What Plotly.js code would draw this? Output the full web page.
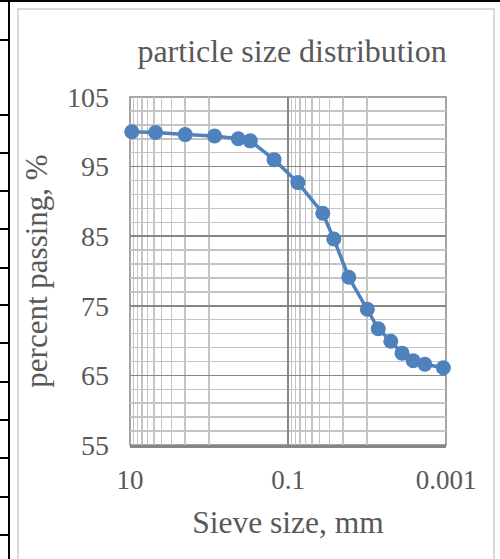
<!DOCTYPE html>
<html>
<head>
<meta charset="utf-8">
<script src="https://cdn.plot.ly/plotly-3.0.1.min.js"></script>
<style>
  html, body { margin: 0; padding: 0; background: #ffffff; }
  body { width: 500px; height: 559px; position: relative; overflow: hidden; }
  .rule { position: absolute; background: #000000; }
  #frame {
    position: absolute; left: 17px; top: 8px; width: 474px; height: 560px;
    border-left: 2px solid #d9d9d9; border-top: 2px solid #d9d9d9; border-right: 2px solid #d9d9d9;
    background: #ffffff;
  }
  #chart { position: absolute; left: 0; top: 0; width: 474px; height: 549px; }
</style>
</head>
<body>
<div class="rule" style="left:0;top:0;width:500px;height:2px;"></div>
<div class="rule" style="left:8px;top:0;width:2px;height:559px;"></div>
<div id="rows"></div>
<div id="frame"><div id="chart"></div></div>
<script>
// Grain size analysis: sieve + hydrometer results
const sieveSizes = [9.5, 4.75, 2.0, 0.85, 0.425, 0.3, 0.15, 0.075, 0.0363, 0.0263, 0.0170, 0.0099, 0.0072, 0.0050, 0.0036, 0.0026, 0.00185, 0.00108];
const percentPassing = [100.0, 99.9, 99.6, 99.4, 99.0, 98.7, 96.0, 92.7, 88.3, 84.6, 79.1, 74.5, 71.7, 69.9, 68.2, 67.1, 66.6, 66.1];

const xMajorVals = [10, 0.1, 0.001];
const xMajorText = ['10', '0.1', '0.001'];
const xMinorVals = [9, 8, 7, 6, 5, 4, 3, 2, 1, 0.09, 0.08, 0.07, 0.06, 0.05, 0.04, 0.03, 0.02, 0.01];

// table row rules of the surrounding page
const rowRules = [40, 115, 153, 191, 229, 268, 305, 343, 382, 420, 458, 497, 535];
const rows = document.getElementById('rows');
rowRules.forEach(function (y) {
  const d = document.createElement('div');
  d.className = 'rule';
  d.style.left = '0px';
  d.style.top = (y - 1) + 'px';
  d.style.width = '9px';
  d.style.height = '2px';
  rows.appendChild(d);
});

const serif = '"Liberation Serif", "Times New Roman", serif';
const textGray = '#595959';
const majorGrid = '#868686';
const minorGrid = '#c4c4c4';

const trace = {
  x: sieveSizes,
  y: percentPassing,
  type: 'scatter',
  mode: 'lines+markers',
  line: { color: '#4f81bd', width: 3.5 },
  marker: { color: '#4f81bd', size: 15 },
  cliponaxis: false,
  hoverinfo: 'x+y'
};

const layout = {
  width: 474,
  height: 549,
  margin: { l: 111, r: 47, t: 87, b: 114 },
  paper_bgcolor: '#ffffff',
  plot_bgcolor: '#ffffff',
  showlegend: false,
  font: { family: serif, color: textGray, size: 27 },
  title: {
    text: 'particle size distribution',
    font: { family: serif, size: 32, color: textGray },
    x: 0.576, xanchor: 'center',
    yref: 'container', y: 0.925, yanchor: 'middle'
  },
  // plot-area outline (top/left/right edges coincide with major gridlines)
  shapes: [{
    type: 'rect', xref: 'paper', yref: 'paper', x0: 0, x1: 1, y0: 0, y1: 1,
    line: { color: majorGrid, width: 1.5 }, layer: 'below'
  }],
  xaxis: {
    type: 'log',
    range: [1, -3],
    tickmode: 'array',
    tickvals: xMajorVals,
    ticktext: xMajorText,
    ticks: '',
    ticklabelstandoff: 9,
    showgrid: true,
    gridcolor: majorGrid,
    gridwidth: 1.5,
    minor: { tickmode: 'array', tickvals: xMinorVals, showgrid: true, gridcolor: minorGrid, gridwidth: 1.5, ticks: '' },
    showline: true,
    linecolor: majorGrid,
    linewidth: 3,
    zeroline: false,
    tickfont: { family: serif, size: 27, color: textGray },
    title: { text: 'Sieve size, mm', font: { family: serif, size: 31.5, color: textGray }, standoff: 17 },
    automargin: false,
    fixedrange: true
  },
  yaxis: {
    range: [55, 105],
    tickmode: 'linear',
    tick0: 55,
    dtick: 10,
    ticks: '',
    ticklabelstandoff: 20,
    showgrid: true,
    gridcolor: majorGrid,
    gridwidth: 1.5,
    minor: { tick0: 55, dtick: 2, showgrid: true, gridcolor: minorGrid, gridwidth: 1.5, ticks: '' },
    showline: false,
    zeroline: false,
    tickfont: { family: serif, size: 28, color: textGray },
    title: { text: 'percent passing, %', font: { family: serif, size: 31, color: textGray }, standoff: 14 },
    automargin: false,
    fixedrange: true
  }
};

Plotly.newPlot('chart', [trace], layout, { staticPlot: true, displayModeBar: false });
</script>
</body>
</html>
